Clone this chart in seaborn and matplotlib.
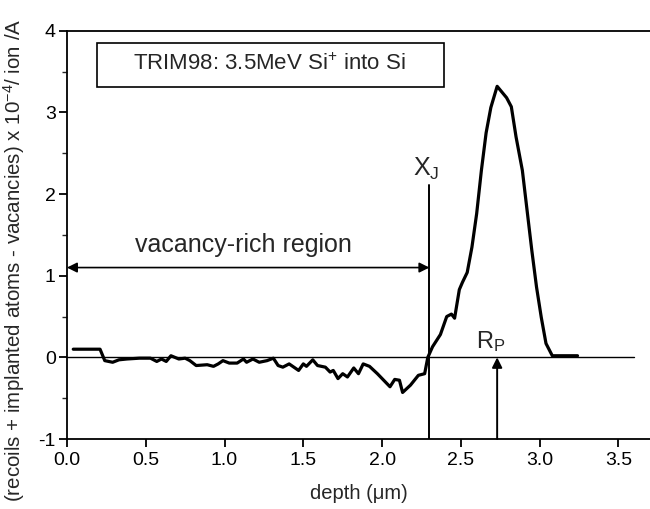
import matplotlib
matplotlib.use("Agg")
import matplotlib.pyplot as plt
import seaborn as sns
import pandas as pd
from matplotlib.patches import Rectangle

# TRIM98 excess profile
depth = [0.04, 0.21, 0.24, 0.29, 0.33, 0.38, 0.46, 0.53, 0.57, 0.60,
         0.63, 0.66, 0.71, 0.75, 0.78, 0.82, 0.89, 0.93, 0.96, 0.99,
         1.03, 1.08, 1.12, 1.14, 1.18, 1.22, 1.27, 1.31, 1.34, 1.37,
         1.41, 1.47, 1.50, 1.52, 1.56, 1.59, 1.64, 1.67, 1.69, 1.72,
         1.75, 1.78, 1.82, 1.85, 1.88, 1.92, 1.97, 2.01, 2.05, 2.08,
         2.11, 2.13, 2.18, 2.23, 2.27, 2.29,
         2.32, 2.37, 2.41, 2.44, 2.46, 2.49, 2.51, 2.54, 2.57, 2.60,
         2.63, 2.66, 2.69, 2.73, 2.79, 2.82, 2.85, 2.89, 2.92, 2.95,
         2.98, 3.01, 3.04, 3.08, 3.24]
excess = [0.10, 0.10, -0.04, -0.06, -0.03, -0.02, -0.01, -0.01, -0.05, -0.02,
          -0.05, 0.02, -0.02, -0.01, -0.04, -0.10, -0.09, -0.11, -0.08, -0.04,
          -0.07, -0.07, -0.02, -0.06, -0.02, -0.06, -0.04, -0.01, -0.10, -0.12,
          -0.08, -0.16, -0.08, -0.11, -0.03, -0.10, -0.12, -0.18, -0.16, -0.26,
          -0.20, -0.24, -0.13, -0.20, -0.08, -0.11, -0.20, -0.28, -0.36, -0.27,
          -0.28, -0.43, -0.34, -0.22, -0.20, 0.0,
          0.13, 0.28, 0.50, 0.53, 0.48, 0.83, 0.92, 1.04, 1.35, 1.76,
          2.29, 2.75, 3.06, 3.32, 3.18, 3.07, 2.70, 2.29, 1.80, 1.31,
          0.86, 0.49, 0.17, 0.02, 0.02]

xj = 2.30   # junction depth
rp = 2.73   # projected range
xticks = [0.0, 0.5, 1.0, 1.5, 2.0, 2.5, 3.0, 3.5]
yticks = [-1, 0, 1, 2, 3, 4]

df = pd.DataFrame({"depth": depth, "excess": excess})

sns.set_style("ticks")
plt.rcParams['font.family'] = ['Liberation Sans', 'DejaVu Sans']
plt.rcParams['mathtext.fontset'] = 'custom'
plt.rcParams['mathtext.rm'] = 'Liberation Sans'
plt.rcParams['mathtext.it'] = 'Liberation Sans:italic'
plt.rcParams['mathtext.default'] = 'regular'
plt.rcParams['axes.unicode_minus'] = False

fig = plt.figure(figsize=(6.5, 5.09), dpi=100)
ax = fig.add_axes([0.103, 0.1375, 0.897, 0.802])

sns.lineplot(data=df, x="depth", y="excess", sort=False, estimator=None,
             color="black", lw=2.3, ax=ax)

ax.axhline(0, xmin=0, xmax=3.6 / 3.7, color="black", lw=1.0, zorder=1)
ax.plot([xj, xj], [-1, 2.11], color="black", lw=1.4)

# vacancy-rich region double arrow
ax.annotate("", xy=(0.0, 1.1), xytext=(xj, 1.1),
            arrowprops=dict(arrowstyle="<|-|>", color="black", lw=1.2,
                            mutation_scale=15, shrinkA=0, shrinkB=0))
ax.text(1.12, 1.29, "vacancy-rich region", fontsize=18, ha="center", va="baseline")

# Rp arrow
ax.annotate("", xy=(rp, 0.0), xytext=(rp, -1.0),
            arrowprops=dict(arrowstyle="-|>", color="black", lw=1.4,
                            mutation_scale=15, shrinkA=0, shrinkB=0))
ax.text(2.69, 0.04, "R$_{\\mathrm{P}}$", fontsize=17, ha="center", va="bottom")
ax.text(2.28, 2.15, "X$_{\\mathrm{J}}$", fontsize=18, ha="center", va="bottom")

# title box
ax.add_patch(Rectangle((0.0515, 0.863), 0.595, 0.108, transform=ax.transAxes,
                       fill=False, edgecolor="black", lw=1.2))
ax.text(0.347, 0.917, "TRIM98: 3.5MeV Si$^{+}$ into Si", transform=ax.transAxes,
        fontsize=16, ha="center", va="center")

ax.set_xlim(0, 3.7)
ax.set_ylim(-1, 4)
ax.set_xticks(xticks)
ax.set_xticklabels([f"{t:.1f}" for t in xticks])
ax.set_yticks(yticks)
ax.set_yticks([-0.5, 0.5, 1.5, 2.5, 3.5], minor=True)
ax.tick_params(axis="both", which="major", direction="out", length=6, width=1.3,
               labelsize=14, color="black", labelcolor="black")
ax.tick_params(axis="y", which="minor", direction="out", length=3.5, width=1.0)
ax.tick_params(axis="y", pad=2)

for side in ["left", "bottom", "top"]:
    ax.spines[side].set_color("black")
    ax.spines[side].set_linewidth(1.3)
ax.spines["right"].set_visible(False)

ax.set_xlabel("depth (\u03bcm)", fontsize=14.5)
ax.set_ylabel("(recoils + implanted atoms - vacancies) x 10$^{-4}$/ ion /A", fontsize=14.8)
ax.yaxis.set_label_coords(-0.068, 0.437)
ax.xaxis.set_label_coords(0.5, -0.11)

fig.savefig("out.png", dpi=100)
